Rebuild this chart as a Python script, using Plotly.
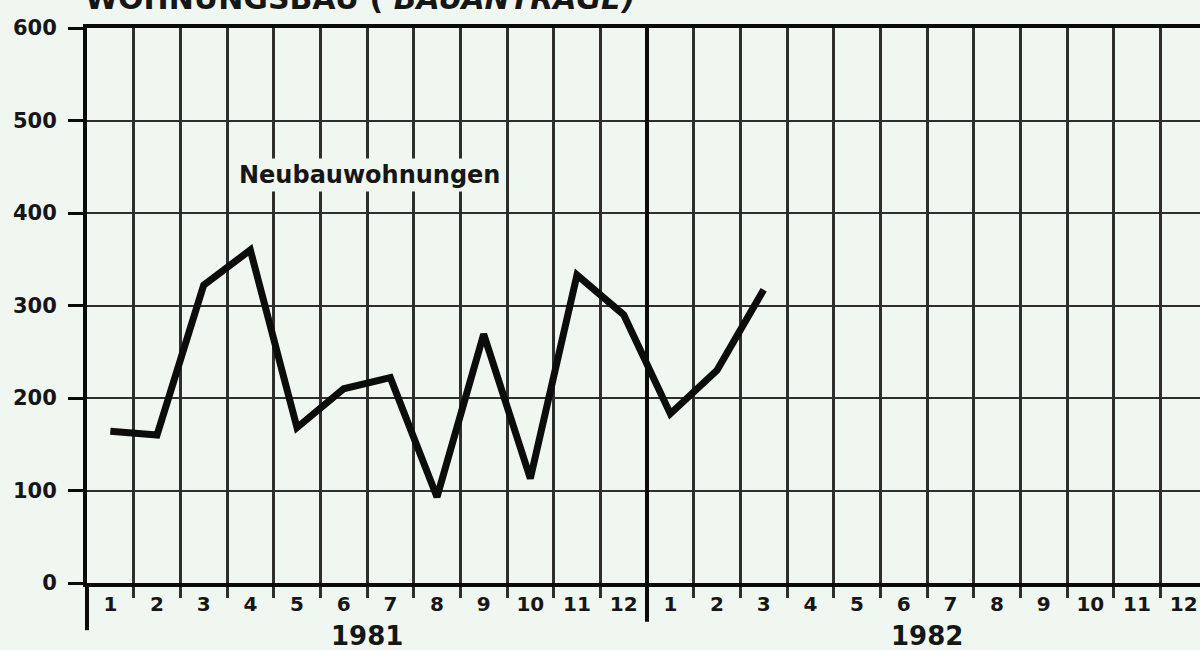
import plotly.graph_objects as go

# ---- data ----
months = [str(m) for m in range(1, 13)]
years = ["1981", "1982"]
neubau_1981 = [164, 160, 322, 360, 168, 210, 222, 93, 269, 113, 333, 290]
neubau_1982 = [183, 230, 317]
y_ticks = [0, 100, 200, 300, 400, 500, 600]
series_label = "Neubauwohnungen"
title_text = "WOHNUNGSBAU ( <i>BAUANTRÄGE)</i>"

BG = "#f0f6f0"
INK = "#161616"
GRID = "#2e2e2e"
FONT = "DejaVu Sans"

n_months = len(months)
n_total = n_months * len(years)

values = neubau_1981 + neubau_1982
x_pos = [i + 0.5 for i in range(len(values))]
tick_pos = [i + 0.5 for i in range(n_total)]
tick_text = months * len(years)

fig = go.Figure()
fig.add_trace(go.Scatter(
    x=x_pos, y=values, mode="lines",
    line=dict(color="#0c0c0c", width=7),
    showlegend=False, hoverinfo="skip",
))

fig.update_layout(
    width=1200, height=650,
    margin=dict(l=87, r=0, t=28, b=67),
    paper_bgcolor=BG, plot_bgcolor=BG,
    font=dict(family=FONT, color=INK),
    showlegend=False,
)

fig.update_xaxes(
    range=[0, 23.85],
    tickmode="array", tickvals=tick_pos, ticktext=tick_text,
    ticks="", showgrid=False, zeroline=False,
    tickfont=dict(family=FONT, size=20, color=INK, weight="bold"),
    ticklabelstandoff=0,
    showline=True, linecolor="#0a0a0a", linewidth=4, mirror=True,
    minor=dict(tick0=0, dtick=1, showgrid=True, gridcolor=GRID, gridwidth=2.5,
               ticks="outside", ticklen=11, tickwidth=2.5, tickcolor=GRID),
)
fig.update_yaxes(
    range=[0, 600],
    tickmode="array", tickvals=y_ticks,
    showgrid=True, gridcolor=GRID, gridwidth=2,
    zeroline=False,
    ticks="outside", ticklen=15, tickwidth=3, tickcolor="#0a0a0a",
    tickfont=dict(family=FONT, size=21, color=INK, weight="bold"),
    ticklabelstandoff=7,
    showline=True, linecolor="#0a0a0a", linewidth=4,
)

# year divider and extended y axis
fig.add_shape(type="line", xref="x", yref="paper", x0=n_months, x1=n_months,
              y0=-0.07, y1=1, line=dict(color="#0a0a0a", width=4))
fig.add_shape(type="line", xref="paper", yref="paper", x0=0, x1=0,
              y0=-0.085, y1=0, line=dict(color="#0a0a0a", width=4))

# year labels
for k, yr in enumerate(years):
    fig.add_annotation(
        x=k * n_months + n_months / 2, xref="x",
        y=0, yref="paper", yanchor="top", yshift=-36,
        text=yr, showarrow=False,
        font=dict(family=FONT, size=26, color=INK, weight="bold"),
    )

# series label
fig.add_annotation(
    x=6.06, y=441, xref="x", yref="y",
    text=series_label, showarrow=False, bgcolor=BG, borderpad=2,
    font=dict(family=FONT, size=24, color=INK, weight="bold"),
)

# title (cut off at the top edge as in the reference)
fig.add_annotation(
    x=0, xref="paper", xanchor="left", xshift=-4,
    y=1, yref="paper", yanchor="bottom", yshift=10,
    text=title_text, showarrow=False,
    font=dict(family=FONT, size=30, color=INK, weight="bold"),
)

fig.write_html(
    "out.html",
    config={"displayModeBar": False},
    post_script=(
        "document.body.style.margin='0';"
        "document.body.style.overflow='hidden';"
        f"document.body.style.background='{BG}';"
    ),
)
